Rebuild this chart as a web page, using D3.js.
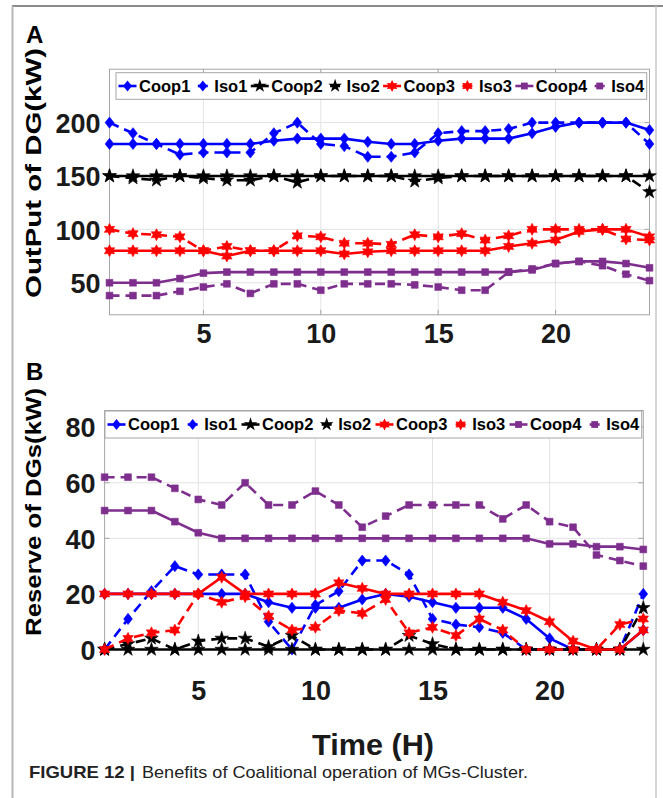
<!DOCTYPE html>
<html><head><meta charset="utf-8">
<script src="https://cdn.jsdelivr.net/npm/d3@7"></script>
<style>
body{margin:0;background:#fff}
svg{display:block}
text{font-family:"Liberation Sans",Arial,Helvetica,sans-serif}
</style>
</head><body>
<svg id="c" width="663" height="798"></svg>
<script>
// ---------------- data ----------------
const hours = [1,2,3,4,5,6,7,8,9,10,11,12,13,14,15,16,17,18,19,20,21,22,23,24];
const seriesNames = ["Coop1","Iso1","Coop2","Iso2","Coop3","Iso3","Coop4","Iso4"];

// Panel A: OutPut of DG (kW)
const coop1A = [180,180,180,180,180,180,180,183,185,185,185,182,180,180,183,185,185,185,190,196,200,200,200,193];
const iso1A  = [200,190,180,170,172,172,172,190,200,180,178,168,168,172,190,192,192,194,200,200,200,200,200,180];
const coop2A = [150,150,150,150,150,150,150,150,150,150,150,150,150,150,150,150,150,150,150,150,150,150,150,150];
const iso2A  = [150,148,146,150,148,146,146,150,144,150,150,150,150,145,148,150,150,150,150,150,150,150,150,135];
const coop3A = [80,80,80,80,80,75,80,80,80,80,77,79,80,80,80,80,80,84,87,90,98,100,100,93];
const iso3A  = [100,96,95,93,80,84,80,80,94,93,87,87,86,95,93,96,90,94,100,100,100,100,91,90];
const coop4A = [50,50,50,54,59,60,60,60,60,60,60,60,60,60,60,60,60,60,62,68,70,70,68,64];
const iso4A  = [38,38,38,42,46,49,40,49,49,43,49,49,49,48,46,43,43,60,63,68,70,66,58,52];

// Panel B: Reserve of DGs (kW)
const coop1B = [20,20,20,20,20,20,20,17,15,15,15,18,20,19,17,15,15,15,11,4,0,0,0,7];
const iso1B  = [0,11,21,30,27,27,27,10,0,16,21,32,32,27,11,9,8,6,0,0,0,0,0,20];
const coop2B = [0,0,0,0,0,0,0,0,0,0,0,0,0,0,0,0,0,0,0,0,0,0,0,0];
const iso2B  = [0,2,4,0,3,4,4,1,5,0,0,0,0,5,2,0,0,0,0,0,0,0,0,15];
const coop3B = [20,20,20,20,20,26,20,20,20,20,24,22,20,20,20,20,20,17,14,10,3,0,0,7];
const iso3B  = [0,4,6,7,20,17,19,12,7,8,14,13,18,6,8,5,11,7,0,0,0,0,9,11];
const coop4B = [50,50,50,46,42,40,40,40,40,40,40,40,40,40,40,40,40,40,40,38,38,37,37,36];
const iso4B  = [62,62,62,58,54,52,60,52,52,57,52,44,48,52,52,52,52,47,52,46,44,34,32,30];

const xTicks = [5,10,15,20];
const yTicksA = [50,100,150,200];
const yTicksB = [0,20,40,60,80];

// ---------------- styles ----------------
const BLUE="#0000ff", BLACK="#000000", RED="#ff0000", PURPLE="#7e2f8e";
const hexagram = (()=>{const p=[];for(let i=0;i<12;i++){const r=i%2?3.3:6.0;const a=-Math.PI/2+i*Math.PI/6;p.push([r*Math.cos(a),r*Math.sin(a)]);}return "M"+p.map(d=>d.join(",")).join("L")+"Z";})();
const MARK = {
  diamond:"M0,-5.6L4.4,0L0,5.6L-4.4,0Z",
  star:d3.symbol(d3.symbolStar,58)(),
  hex:hexagram,
  square:"M-3.4,-3.4h6.8v6.8h-6.8Z"
};
const STYLE = {
  Coop1:{c:BLUE,m:"diamond",dash:null}, Iso1:{c:BLUE,m:"diamond",dash:"10,6"},
  Coop2:{c:BLACK,m:"star",dash:null},   Iso2:{c:BLACK,m:"star",dash:"10,6"},
  Coop3:{c:RED,m:"hex",dash:null},      Iso3:{c:RED,m:"hex",dash:"10,6"},
  Coop4:{c:PURPLE,m:"square",dash:null},Iso4:{c:PURPLE,m:"square",dash:"10,6"}
};

const svg = d3.select("#c");

// frame
svg.append("line").attr("x1",12).attr("x2",663).attr("y1",6).attr("y2",6).attr("stroke","#666").attr("stroke-width",1.5);
svg.append("line").attr("x1",12.5).attr("x2",12.5).attr("y1",6).attr("y2",798).attr("stroke","#b8b8b8").attr("stroke-width",2);
svg.append("line").attr("x1",656).attr("x2",656).attr("y1",6).attr("y2",798).attr("stroke","#c8c8c8").attr("stroke-width",1.5);

function panel(o){
  const g = svg.append("g");
  const x = d3.scaleLinear().domain([1,24]).range([o.x0,o.x1]);
  const y = d3.scaleLinear().domain(o.yDomain).range([o.y0,o.y1]);
  const L=o.x0, R=o.x1, T=o.y1, B=o.y0;
  // grid
  g.append("g").selectAll("line").data(xTicks).join("line")
    .attr("x1",d=>x(d)).attr("x2",d=>x(d)).attr("y1",T).attr("y2",B)
    .attr("stroke","#e3e3e3").attr("stroke-width",1);
  g.append("g").selectAll("line").data(o.yTicks).join("line")
    .attr("x1",L).attr("x2",R).attr("y1",d=>y(d)).attr("y2",d=>y(d))
    .attr("stroke","#e3e3e3").attr("stroke-width",1);
  // axes via d3 (labels)
  const ax = d3.axisBottom(x).tickValues(xTicks).tickSize(0).tickPadding(0);
  const axg = g.append("g").attr("transform",`translate(0,${B})`).call(ax);
  axg.select(".domain").remove();
  axg.selectAll("text").attr("font-size",27).attr("font-weight","bold").attr("fill","#1a1a1a")
    .attr("dy",null).attr("y",o.xLabelY-B);
  const ay = d3.axisLeft(y).tickValues(o.yTicks).tickSize(0).tickPadding(9);
  const ayg = g.append("g").attr("transform",`translate(${L},0)`).call(ay);
  ayg.select(".domain").remove();
  ayg.selectAll("text").attr("font-size",27).attr("font-weight","bold").attr("fill","#1a1a1a").attr("dy","0.36em");
  // box + inner ticks
  g.append("rect").attr("x",L).attr("y",T).attr("width",R-L).attr("height",B-T)
    .attr("fill","none").attr("stroke","#a6a6a6").attr("stroke-width",1);
  const tk = g.append("g").attr("stroke","#a6a6a6").attr("stroke-width",1);
  xTicks.forEach(v=>{tk.append("line").attr("x1",x(v)).attr("x2",x(v)).attr("y1",B).attr("y2",B-5);
                     tk.append("line").attr("x1",x(v)).attr("x2",x(v)).attr("y1",T).attr("y2",T+5);});
  o.yTicks.forEach(v=>{tk.append("line").attr("x1",L).attr("x2",L+5).attr("y1",y(v)).attr("y2",y(v));
                       tk.append("line").attr("x1",R).attr("x2",R-5).attr("y1",y(v)).attr("y2",y(v));});
  // series
  const line = d3.line().x((d,i)=>x(hours[i])).y(d=>y(d));
  o.series.forEach(s=>{
    const st = STYLE[s.name];
    const sg = g.append("g");
    sg.append("path").attr("d",line(s.values)).attr("fill","none").attr("stroke",st.c)
      .attr("stroke-width",2.6).attr("stroke-linejoin","round")
      .attr("stroke-dasharray",st.dash);
    sg.selectAll("path.m").data(s.values).join("path").attr("class","m")
      .attr("d",MARK[st.m]).attr("fill",st.c).attr("stroke",st.c).attr("stroke-width",0.6)
      .attr("transform",(d,i)=>`translate(${x(hours[i])},${y(d)})`);
  });
  // legend
  const lg = g.append("g");
  lg.append("rect").attr("x",o.leg[0]).attr("y",o.leg[1]).attr("width",o.leg[2]-o.leg[0]).attr("height",o.leg[3]-o.leg[1])
    .attr("fill","#fff").attr("stroke","#a6a6a6").attr("stroke-width",1);
  const ly = (o.leg[1]+o.leg[3])/2;
  const items = seriesNames.map(n=>{
    const t = lg.append("text").text(n).attr("font-size",16.5).attr("font-weight","bold").attr("fill","#000").attr("y",ly).attr("dy","0.36em");
    return {n,t,w:t.node().getComputedTextLength()};
  });
  const SW=18, GAP=2.5, pad=2.5;
  const used = items.reduce((a,b)=>a+SW+GAP+b.w,0);
  const free = (o.leg[2]-o.leg[0]-2*pad-used)/(items.length-1);
  let cx = o.leg[0]+pad;
  items.forEach(it=>{
    const st = STYLE[it.n];
    if(st.dash){
      lg.append("line").attr("x1",cx+4).attr("x2",cx+SW-4).attr("y1",ly).attr("y2",ly).attr("stroke",st.c).attr("stroke-width",2.6);
    } else {
      lg.append("line").attr("x1",cx).attr("x2",cx+SW).attr("y1",ly).attr("y2",ly).attr("stroke",st.c).attr("stroke-width",2.6);
    }
    lg.append("path").attr("d",MARK[st.m]).attr("fill",st.c).attr("transform",`translate(${cx+SW/2},${ly})`);
    it.t.attr("x",cx+SW+GAP);
    cx += SW+GAP+it.w+free;
  });
  // y title
  g.append("text").text(o.yTitle).attr("font-size",22).attr("font-weight","bold").attr("fill","#000")
    .attr("text-anchor","middle")
    .attr("transform",`translate(${o.yTitlePos[0]},${o.yTitlePos[1]}) rotate(-90)`)
    .attr("textLength",o.yTitleLen).attr("lengthAdjust","spacingAndGlyphs");
  // panel letter
  g.append("text").text(o.letter).attr("x",o.letterPos[0]).attr("y",o.letterPos[1])
    .attr("font-size",24).attr("font-weight","bold").attr("fill","#000");
}

const mk = (names, arrs)=>names.map((n,i)=>({name:n, values:arrs[i]}));

panel({
  x0:109.5, x1:649.5, y0:314.8, y1:69.2, yDomain:[20,250], yTicks:yTicksA, xLabelY:343,
  series: mk(seriesNames,[coop1A,iso1A,coop2A,iso2A,coop3A,iso3A,coop4A,iso4A]),
  leg:[116,72.7,646.7,99.3], yTitle:"OutPut of DG(kW)", yTitlePos:[41,173], yTitleLen:250,
  letter:"A", letterPos:[26,43]
});
panel({
  x0:104.6, x1:643.3, y0:649.5, y1:410.5, yDomain:[0,86], yTicks:yTicksB, xLabelY:700,
  series: mk(seriesNames,[coop1B,iso1B,coop2B,iso2B,coop3B,iso3B,coop4B,iso4B]),
  leg:[105,411,641.7,438], yTitle:"Reserve of DGs(kW)", yTitlePos:[41,512], yTitleLen:248,
  letter:"B", letterPos:[26,380]
});

// x title
svg.append("text").text("Time (H)").attr("x",373).attr("y",755).attr("text-anchor","middle")
  .attr("font-size",30).attr("font-weight","bold").attr("fill","#1a1a1a")
  .attr("textLength",122).attr("lengthAdjust","spacingAndGlyphs");

// caption
svg.append("text").text("FIGURE 12 |").attr("x",29).attr("y",778)
  .attr("font-size",17).attr("font-weight","bold").attr("fill","#222")
  .attr("textLength",106).attr("lengthAdjust","spacingAndGlyphs");
svg.append("text").text("Benefits of Coalitional operation of MGs-Cluster.").attr("x",142).attr("y",778)
  .attr("font-size",17).attr("fill","#222")
  .attr("textLength",386).attr("lengthAdjust","spacingAndGlyphs");
</script>
</body></html>
